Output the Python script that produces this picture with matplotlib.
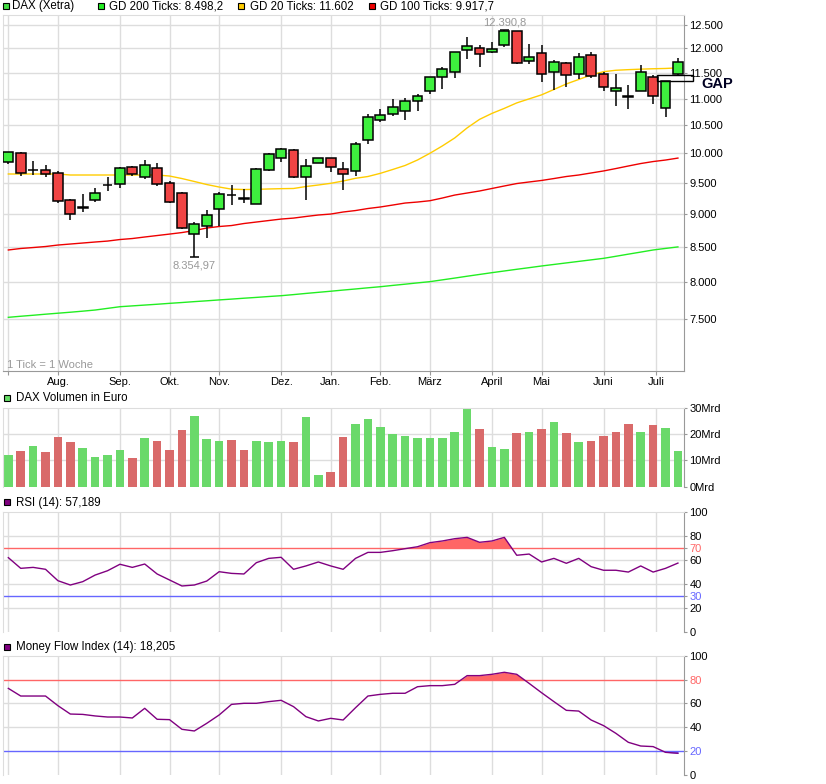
import numpy as np
import matplotlib
matplotlib.use('Agg')
import matplotlib.pyplot as plt
from matplotlib.patches import Rectangle
from matplotlib.ticker import FixedLocator, NullLocator, FixedFormatter

plt.rcParams['font.family'] = ['Liberation Sans', 'DejaVu Sans']

# ---------------- data ----------------
opens = [9845, 9997, 9712, 9716, 9666, 9222, 9098, 9222, 9460, 9481,
         9766, 9592, 9750, 9497, 9333, 8692, 8806, 9077, 9306, 9251,
         9158, 9716, 9921, 10060, 9599, 9828, 9921, 9733, 9704, 10238,
         10602, 10714, 10770, 10957, 11148, 11413, 11512, 11974, 12010, 11935,
         12063, 12364, 11746, 11905, 11512, 11695, 11474, 11862, 11469, 11140,
         11037, 11146, 11413, 10828, 11487]
highs = [10025, 10015, 9875, 9800, 9693, 9238, 9317, 9415, 9604, 9773,
         9789, 9888, 9828, 9524, 9350, 8878, 9062, 9343, 9465, 9399,
         9750, 9997, 10095, 10078, 9905, 9925, 9925, 9858, 10198, 10714,
         10807, 10994, 11013, 11094, 11420, 11624, 11930, 12235, 12063, 12128,
         12390.8, 12375, 12088, 12071, 11760, 11715, 11905, 11935, 11524, 11469,
         11257, 11657, 11455, 11345, 11808]
lows = [9810, 9609, 9632, 9592, 9168, 8904, 9037, 9183, 9359, 9415,
        9609, 9565, 9449, 9179, 8765, 8354.97, 8637, 8816, 9142, 9168,
        9150, 9700, 9845, 9575, 9222, 9825, 9676, 9382, 9609, 10155,
        10558, 10666, 10602, 10763, 11081, 11180, 11405, 11790, 11624, 11905,
        12022, 11690, 11686, 11325, 11160, 11226, 11388, 11405, 11140, 10857,
        10796, 11140, 10890, 10650, 11434]
closes = [10015, 9666, 9720, 9649, 9206, 8997, 9108, 9333, 9470, 9750,
          9649, 9800, 9481, 9195, 8780, 8842, 8981, 9317, 9296, 9241,
          9733, 9985, 10078, 9592, 9783, 9921, 9773, 9649, 10170, 10650,
          10695, 10838, 10957, 11057, 11413, 11572, 11921, 12051, 11885, 11985,
          12375, 11695, 11814, 11474, 11715, 11455, 11826, 11434, 11220, 11210,
          11047, 11512, 11048, 11340, 11715]
gd20 = [9647, 9647, 9647, 9647, 9647, 9630, 9630, 9630, 9630, 9630,
        9630, 9630, 9630, 9613, 9571, 9522, 9472, 9431, 9396, 9390,
        9393, 9399, 9404, 9407, 9439, 9464, 9492, 9530, 9575, 9605,
        9658, 9723, 9791, 9885, 10001, 10129, 10271, 10452, 10608, 10719,
        10813, 10916, 10993, 11070, 11174, 11282, 11370, 11459, 11525, 11554,
        11566, 11576, 11584, 11590, 11602]
gd100 = [8453, 8475, 8489, 8504, 8526, 8541, 8556, 8571, 8585, 8608,
         8623, 8646, 8668, 8690, 8713, 8743, 8782, 8805, 8820, 8851,
         8874, 8897, 8920, 8935, 8960, 8983, 8998, 9030, 9053, 9085,
         9109, 9140, 9172, 9188, 9209, 9252, 9300, 9333, 9366, 9407,
         9448, 9488, 9514, 9539, 9571, 9605, 9630, 9664, 9698, 9739,
         9782, 9824, 9858, 9884, 9917.7]
gd200 = [7519, 7533, 7546, 7560, 7573, 7586, 7600, 7615, 7637, 7659,
         7670, 7681, 7692, 7704, 7715, 7727, 7738, 7750, 7761, 7773,
         7784, 7796, 7807, 7822, 7838, 7853, 7868, 7884, 7899, 7915,
         7930, 7948, 7965, 7983, 8000, 8025, 8050, 8076, 8101, 8126,
         8150, 8174, 8197, 8221, 8243, 8265, 8287, 8309, 8331, 8361,
         8392, 8422, 8453, 8476, 8498.2]
volume = [12.0, 13.5, 15.4, 13.2, 18.9, 17.0, 14.7, 11.3, 12.0, 13.9,
          10.9, 18.5, 17.3, 13.9, 21.5, 26.8, 18.1, 17.3, 17.7, 13.9,
          17.3, 17.0, 17.3, 17.0, 26.5, 4.4, 5.6, 18.9, 23.8, 25.7,
          22.7, 20.0, 19.2, 18.5, 18.5, 18.5, 20.8, 29.9, 21.9, 15.1,
          14.3, 20.4, 20.8, 21.9, 24.6, 20.4, 17.0, 17.3, 19.2, 20.8,
          23.8, 20.8, 23.4, 22.3, 13.5]
rsi = [61.7, 52.8, 53.6, 52.0, 42.5, 38.9, 41.7, 47.2, 50.8, 56.2,
       53.6, 56.4, 48.1, 43.1, 38.1, 38.9, 42.2, 50.0, 48.6, 48.1,
       57.5, 61.1, 62.0, 52.0, 54.8, 58.1, 54.8, 52.0, 61.1, 66.1,
       66.1, 67.5, 69.2, 70.8, 74.2, 75.6, 77.5, 78.6, 74.5, 75.6,
       78.6, 63.7, 64.7, 58.1, 61.1, 57.0, 61.1, 54.2, 51.2, 51.2,
       49.7, 54.8, 49.7, 52.8, 57.189]
mfi = [72.6, 66.2, 66.2, 66.2, 58.1, 51.1, 50.8, 49.5, 48.6, 48.6,
       47.8, 55.9, 46.7, 46.4, 38.3, 36.9, 43.3, 50.3, 59.2, 60.1,
       60.1, 61.5, 62.6, 57.3, 48.9, 45.3, 47.5, 46.1, 56.4, 66.2,
       67.6, 68.5, 68.5, 74.0, 74.9, 74.9, 76.0, 83.3, 83.3, 84.4,
       86.1, 84.4, 76.8, 69.0, 61.5, 54.2, 53.6, 46.1, 41.4, 34.9,
       27.4, 24.3, 23.8, 19.0, 18.205]
month_labels = ['', 'Aug.', 'Sep.', 'Okt.', 'Nov.', 'Dez.', 'Jan.', 'Feb.',
                'März', 'April', 'Mai', 'Juni', 'Juli']
month_pos = [0, 4, 9, 13, 17, 22, 26, 30, 34, 39, 43, 48, 52.25]
price_ticks = [7500, 8000, 8500, 9000, 9500, 10000, 10500, 11000, 11500, 12000, 12500]
price_labels = ['7.500', '8.000', '8.500', '9.000', '9.500', '10.000', '10.500',
                '11.000', '11.500', '12.000', '12.500']
vol_ticks = [0, 10, 20, 30]
vol_labels = ['0Mrd', '10Mrd', '20Mrd', '30Mrd']
gap_low, gap_high = 11346, 11455

# ---------------- style ----------------
W, H = 826, 784
GRID = '#DDDDDD'
CGREEN = '#3EF03E'
CRED = '#F04444'
VGREEN = '#6AD96A'
VRED = '#D96A6A'
PURPLE = '#800080'
LRED = '#FF6666'
LBLUE = '#6666FF'
FS = 8

fig = plt.figure(figsize=(W / 100, H / 100), dpi=100)
fig.patch.set_facecolor('white')

def ax_px(left, top, right, bottom):
    return fig.add_axes([left / W, 1 - bottom / H, (right - left) / W, (bottom - top) / H])

def ftext(x, y, s, **kw):
    fig.text(x / W, 1 - y / H, s, **kw)

def fsquare(x, y, w, h, fc):
    fig.add_artist(Rectangle((x / W, 1 - (y + h) / H), w / W, h / H,
                             transform=fig.transFigure, facecolor=fc,
                             edgecolor='black', lw=0.8))

n = len(closes)
x = np.arange(n)
XLIM = (-0.43, 54.49)

def style_axes(ax, bottom_line=False):
    ax.set_xlim(*XLIM)
    for s in ['top', 'left']:
        ax.spines[s].set_color(GRID)
    ax.spines['right'].set_color('#999999')
    if bottom_line:
        ax.spines['bottom'].set_color('#999999')
    else:
        ax.spines['bottom'].set_visible(False)
    ax.yaxis.tick_right()
    ax.tick_params(axis='y', length=2.5, pad=1.5, labelsize=FS, color='#999999')
    for p in month_pos:
        ax.axvline(p, color=GRID, lw=1, zorder=0)

# ---------------- main price panel ----------------
ax = ax_px(3, 15, 684, 371)
ax.set_yscale('log')
ax.set_ylim(6849, 12719)
style_axes(ax, bottom_line=True)
ax.yaxis.set_major_locator(FixedLocator(price_ticks))
ax.yaxis.set_major_formatter(FixedFormatter(price_labels))
ax.yaxis.set_minor_locator(NullLocator())
for t in price_ticks:
    ax.axhline(t, color=GRID, lw=1, zorder=0)
ax.set_xticks(month_pos)
ax.set_xticklabels(month_labels, fontsize=FS)
ax.tick_params(axis='x', length=3, pad=1.5, color='#999999')

ax.plot(x, gd200, color='#22EE22', lw=1.0, zorder=2)
ax.plot(x, gd100, color='#EE0000', lw=1.0, zorder=2)
ax.plot(x, gd20, color='#FFCC00', lw=1.0, zorder=2)

o = np.array(opens); c = np.array(closes)
ax.vlines(x, lows, highs, color='black', lw=1.1, zorder=3)
body_col = [CGREEN if ci >= oi else CRED for oi, ci in zip(o, c)]
ax.bar(x, c - o, bottom=o, width=0.8, color=body_col, edgecolor='black',
       lw=1.1, zorder=4)
# extremes markers
ax.hlines([lows[15]], 15 - 0.35, 15 + 0.35, color='black', lw=1.1, zorder=4)
ax.hlines([highs[40]], 40 - 0.35, 40 + 0.35, color='black', lw=1.1, zorder=4)
ax.annotate('12.390,8', xy=(40, highs[40]), xytext=(0, 2), textcoords='offset points',
            ha='center', va='bottom', fontsize=FS, color='#999999')
ax.annotate('8.354,97', xy=(15, lows[15]), xytext=(0, -3), textcoords='offset points',
            ha='center', va='top', fontsize=FS, color='#999999')
# GAP marker
ax.add_patch(Rectangle((52.3, gap_low), 2.9, gap_high - gap_low, facecolor='none',
                       edgecolor='black', lw=1.0, zorder=5, clip_on=False))
ftext(701, 84.5, 'GAP', fontsize=10.5, fontweight='bold', color='#000022', va='center')
ftext(7, 365, '1 Tick = 1 Woche', fontsize=FS, color='#999999', va='center')

# legend row
fsquare(3, 3, 6, 6, '#44DD44'); ftext(12, 6.5, 'DAX (Xetra)', fontsize=8.3, va='center')
fsquare(98, 3, 6, 6, '#22EE22'); ftext(108.5, 6.5, 'GD 200 Ticks: 8.498,2', fontsize=8.3, va='center')
fsquare(238, 3, 6, 6, '#FFCC00'); ftext(249.5, 6.5, 'GD 20 Ticks: 11.602', fontsize=8.3, va='center')
fsquare(368.5, 3, 6, 6, '#EE0000'); ftext(380, 6.5, 'GD 100 Ticks: 9.917,7', fontsize=8.3, va='center')

# ---------------- volume panel ----------------
axv = ax_px(3, 407.7, 684, 486.7)
axv.set_ylim(0, 30)
style_axes(axv)
axv.set_xticks([])
axv.set_yticks(vol_ticks)
axv.set_yticklabels(vol_labels)
for t in [10, 20]:
    axv.axhline(t, color=GRID, lw=1, zorder=0)
vol_col = [VGREEN] + [VGREEN if closes[i] >= closes[i - 1] else VRED for i in range(1, n)]
axv.bar(x, volume, width=0.7, color=vol_col, zorder=2)
fsquare(3.5, 394.5, 6.5, 6.5, '#66DD66')
ftext(15.5, 398, 'DAX Volumen in Euro', fontsize=8.3, va='center')

# ---------------- RSI panel ----------------
axr = ax_px(3, 511.7, 684, 631.7)
axr.set_ylim(0, 100)
style_axes(axr)
axr.set_xticks([])
axr.set_yticks([0, 20, 30, 40, 60, 70, 80, 100])
axr.set_yticklabels(['0', '20', '30', '40', '60', '70', '80', '100'])
for t in [20, 40, 60, 80]:
    axr.axhline(t, color=GRID, lw=1, zorder=0)
axr.axhline(70, color=LRED, lw=1, zorder=1)
axr.axhline(30, color=LBLUE, lw=1, zorder=1)
rs = np.array(rsi)
axr.fill_between(x, rs, 70, where=rs > 70, interpolate=True, color=LRED, lw=0, zorder=2)
axr.plot(x, rs, color=PURPLE, lw=1.0, zorder=3)
for lab in axr.get_yticklabels():
    if lab.get_text() == '70':
        lab.set_color(LRED)
    elif lab.get_text() == '30':
        lab.set_color(LBLUE)
fsquare(3.5, 499, 6.5, 6.5, PURPLE)
ftext(15.5, 502.5, 'RSI (14): 57,189', fontsize=8.3, va='center')

# ---------------- MFI panel ----------------
axm = ax_px(3, 655.7, 684, 775)
axm.set_ylim(0, 100)
style_axes(axm)
axm.set_xticks([])
axm.set_yticks([0, 20, 40, 60, 80, 100])
axm.set_yticklabels(['0', '20', '40', '60', '80', '100'])
for t in [40, 60]:
    axm.axhline(t, color=GRID, lw=1, zorder=0)
axm.axhline(80, color=LRED, lw=1, zorder=1)
axm.axhline(20, color=LBLUE, lw=1, zorder=1)
mf = np.array(mfi)
axm.fill_between(x, mf, 80, where=mf > 80, interpolate=True, color=LRED, lw=0, zorder=2)
axm.fill_between(x, mf, 20, where=mf < 20, interpolate=True, color=LBLUE, lw=0, zorder=2)
axm.plot(x, mf, color=PURPLE, lw=1.0, zorder=3)
for lab in axm.get_yticklabels():
    if lab.get_text() == '80':
        lab.set_color(LRED)
    elif lab.get_text() == '20':
        lab.set_color(LBLUE)
fsquare(3.5, 643.5, 6.5, 6.5, PURPLE)
ftext(15.5, 647, 'Money Flow Index (14): 18,205', fontsize=8.3, va='center')

fig.savefig('out.png', dpi=100, facecolor='white')
